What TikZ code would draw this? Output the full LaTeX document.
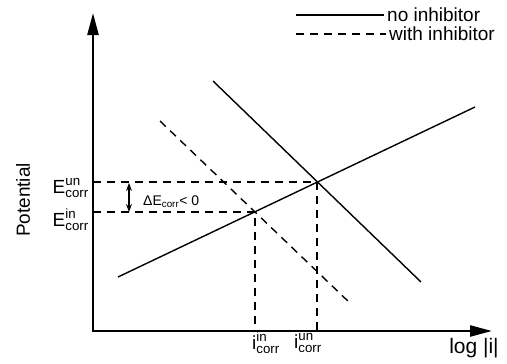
\documentclass[tikz,border=0pt]{standalone}
\usepackage{amsmath}
\usepackage{fontspec}
\setmainfont{Liberation Sans}
\usetikzlibrary{arrows.meta,positioning}

\begin{document}
\begin{tikzpicture}[
    x=1pt, y=-1pt,
    axis/.style={line width=2.4pt, {Triangle[length=22pt, width=11pt]}-{Triangle[length=22pt, width=11pt]}},
    curve/.style={line width=1.4pt},
    inhib/.style={line width=1.4pt, dash pattern=on 8pt off 6pt},
    guide/.style={line width=1.4pt, dash pattern=on 8pt off 6pt},
    big/.style={inner sep=0pt, font=\fontsize{19}{22}\selectfont},
    small/.style={inner sep=0pt, font=\fontsize{14}{16}\selectfont}
  ]
    \useasboundingbox (0,0) rectangle (507,364);

    % axes
    \coordinate (origin) at (93,331);
    \coordinate (ytip) at (93,13);
    \coordinate (xtip) at (492,331);
    \draw[axis] (ytip) -- (origin) -- (xtip);

    % polarisation lines
    \coordinate (an1) at (118,277);
    \coordinate (an2) at (475,107);
    \coordinate (ca1) at (213,81);
    \coordinate (ca2) at (421,282);
    \coordinate (ci1) at (160,121);
    \coordinate (ci2) at (351,304);
    \coordinate (un) at (317,182);
    \coordinate (in) at (255,212);
    \draw[curve] (an1) -- (an2);
    \draw[curve] (ca1) -- (ca2);
    \draw[inhib] (ci1) -- (ci2);

    % corrosion potentials and currents
    \draw[guide] (origin |- un) -- (un) -- (un |- origin);
    \draw[guide] (origin |- in) -- (in) -- (in |- origin);

    \coordinate (dtop) at (129,183);
    \coordinate (dbot) at (129,212);
    \draw[line width=1.2pt, {Stealth[length=8pt, width=6pt]}-{Stealth[length=8pt, width=6pt]}] (dtop) -- (dbot);
    \node[small, anchor=west] (dlabel) at (143,202) {ΔE\textsubscript{corr}< 0};

    \node[big, anchor=east] (eun) at (89,188) {$\text{E}^{\text{un}}_{\text{corr}}$};
    \node[big, anchor=east] (ein) at (89,220) {$\text{E}^{\text{in}}_{\text{corr}}$};
    \node[big, rotate=90] (pot) at (23,200) {Potential};

    \node[big] (iin) at (266,343) {$\text{i}^{\text{in}}_{\text{corr}}$};
    \node[big] (iun) at (308,343) {$\text{i}^{\text{un}}_{\text{corr}}$};
    \node[big, font=\fontsize{21}{24}\selectfont] (logi) at (474,348) {log |i|};

    % legend
    \coordinate (lg1a) at (296,15);
    \coordinate (lg1b) at (384,15);
    \coordinate (lg2a) at (296,34);
    \coordinate (lg2b) at (386,34);
    \draw[curve] (lg1a) -- (lg1b);
    \draw[inhib] (lg2a) -- (lg2b);
    \node[big, anchor=west, right=3pt of lg1b] (noinh) {no inhibitor};
    \node[big, anchor=west, right=3pt of lg2b] (withinh) {with inhibitor};
  \end{tikzpicture}
\end{document}
